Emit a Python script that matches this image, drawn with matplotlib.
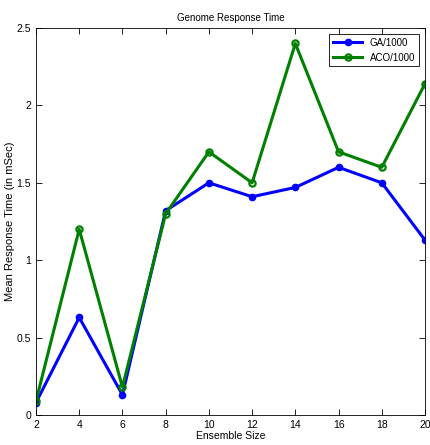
import matplotlib.pyplot as plt

plt.rcParams["font.family"] = ["Liberation Sans", "DejaVu Sans"]

ensemble_size = [2, 4, 6, 8, 10, 12, 14, 16, 18, 20]
ga_1000 = [0.08, 0.63, 0.13, 1.32, 1.50, 1.41, 1.47, 1.60, 1.50, 1.13]
aco_1000 = [0.09, 1.20, 0.18, 1.30, 1.70, 1.50, 2.40, 1.70, 1.60, 2.14]

fig = plt.figure(figsize=(4.30, 4.45), dpi=100)
ax = fig.add_axes([36 / 430, 30 / 445, 389 / 430, 387 / 445])

ax.plot(ensemble_size, ga_1000, color="#0000ff", lw=2.2, marker="o", ms=4.5,
        label="GA/1000")
ax.plot(ensemble_size, aco_1000, color="#008000", lw=2.2, marker="o", ms=4.5,
        mfc="none", mew=1.6, label="ACO/1000")

ax.set_xlim(2, 20)
ax.set_ylim(0, 2.5)
ax.set_xticks(ensemble_size)
ax.set_yticks([0, 0.5, 1, 1.5, 2, 2.5])
ax.set_yticklabels(["0", "0.5", "1", "1.5", "2", "2.5"])
ax.tick_params(direction="in", top=True, right=True, labelsize=7.5, length=4,
               width=0.6)
for s in ax.spines.values():
    s.set_linewidth(0.6)

ax.set_title("Genome Response Time", fontsize=7, pad=5)
ax.set_xlabel("Ensemble Size", fontsize=7.5, labelpad=1)
ax.set_ylabel("Mean Response Time (in mSec)", fontsize=8)
ax.yaxis.set_label_coords(-0.054, 0.5)

leg = ax.legend(loc="upper right", fontsize=7, fancybox=False, framealpha=1,
                edgecolor="black", borderaxespad=0.6, handlelength=3)
leg.get_frame().set_linewidth(0.6)

fig.savefig("out.png")
